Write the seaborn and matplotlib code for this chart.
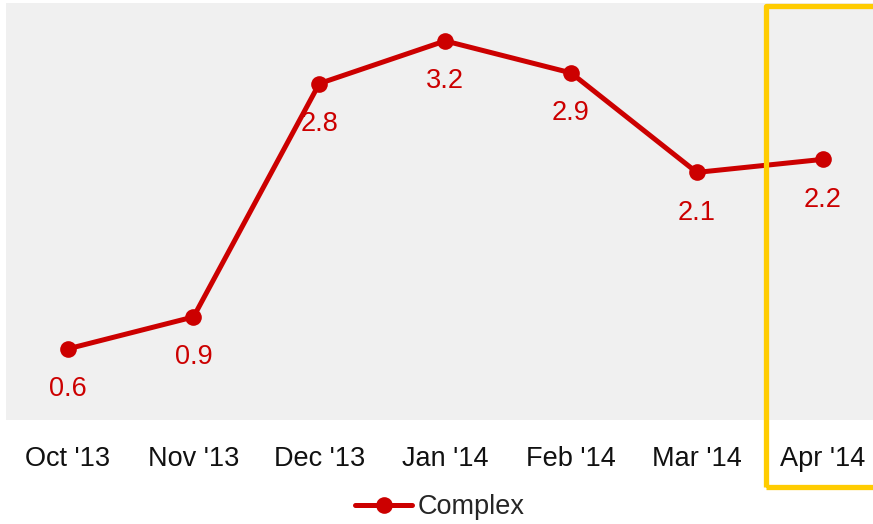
import matplotlib
matplotlib.use("Agg")
import matplotlib.pyplot as plt
import seaborn as sns
import pandas as pd
from matplotlib.patches import Rectangle
from matplotlib.lines import Line2D

months = ["Oct '13", "Nov '13", "Dec '13", "Jan '14", "Feb '14", "Mar '14", "Apr '14"]
complex_vals = [0.6, 0.87, 2.84, 3.2, 2.93, 2.09, 2.2]
series_name = "Complex"

sns.set_style("white")
plt.rcParams['font.family'] = ['Liberation Sans Narrow', 'Liberation Sans', 'DejaVu Sans']

df = pd.DataFrame({"month": months, "value": complex_vals, "series": series_name})
df["pos"] = range(len(months))

fig = plt.figure(figsize=(8.73, 5.24), dpi=100)
ax = fig.add_axes([6/873, (524-420)/524, 867/873, 417/524])
ax.set_facecolor("#f0f0f0")

red = "#cc0000"
sns.lineplot(data=df, x="pos", y="value", hue="series", palette=[red], marker="o",
             markersize=12, markeredgewidth=0, linewidth=3.6, ax=ax, legend=False)

for x, v in zip(df["pos"], df["value"]):
    ax.annotate(f"{v:.1f}", (x, v), xytext=(0, -29), textcoords="offset points",
                ha="center", va="center", color=red, fontsize=19.5)

ax.set_xlim(-0.49, 6.4)
ax.set_ylim(0, 3.52)
ax.set_xticks(range(len(months)))
ax.set_xticklabels(months, fontsize=19.5, color="#111111")
ax.tick_params(axis="x", length=0, pad=19)
ax.set_yticks([])
ax.set_xlabel("")
ax.set_ylabel("")
for s in ax.spines.values():
    s.set_visible(False)

h = Line2D([], [], color=red, lw=3.6, marker="o", markersize=12, markeredgewidth=0)
fig.legend([h], [series_name], loc="center", bbox_to_anchor=(440/873, 1 - 507/524),
           frameon=False, fontsize=19.5, handlelength=2.1, handletextpad=0.2)

rect = Rectangle((766/873, 1 - 487/524), 112/873, (487-5.5)/524, transform=fig.transFigure,
                 fill=False, edgecolor="#ffcc00", linewidth=3.8, clip_on=False,
                 joinstyle="round")
fig.patches.append(rect)

fig.savefig("out.png", dpi=100)
